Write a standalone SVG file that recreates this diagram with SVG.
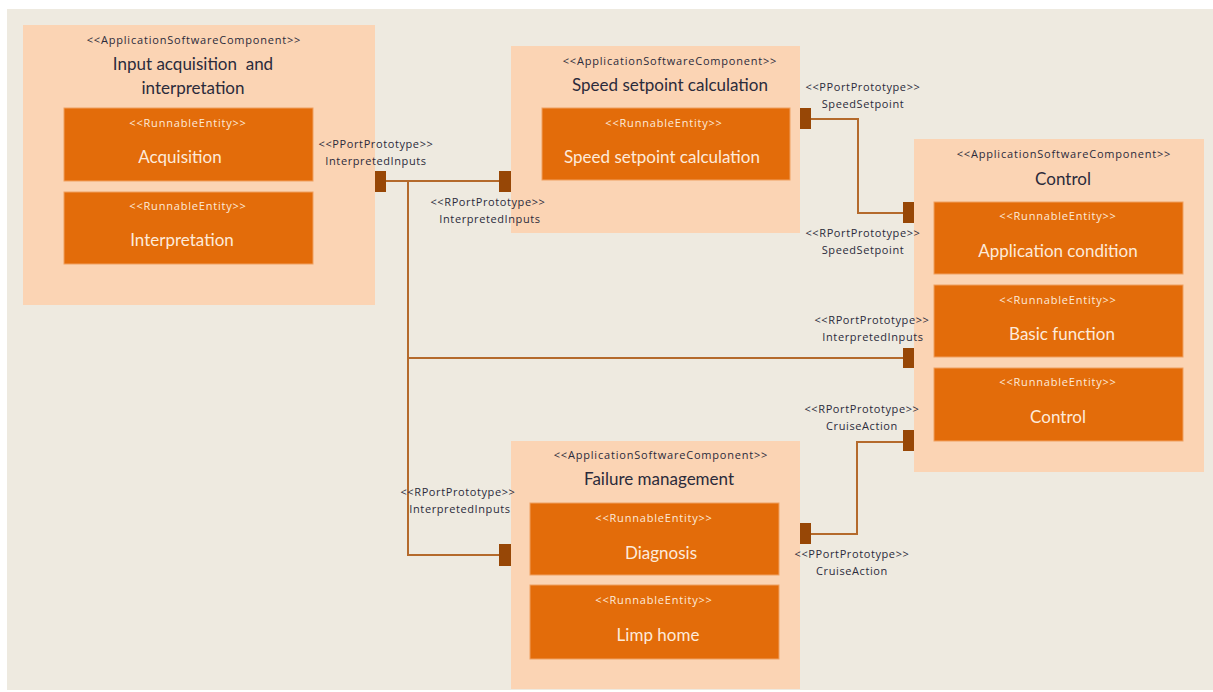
<svg xmlns="http://www.w3.org/2000/svg" width="1213" height="692" viewBox="0 0 1213 692">
<style>
.comp{fill:#FBD4B4}
.run{fill:#E36C0A;stroke:#F0A060;stroke-width:1}
.port{fill:#974706}
.st{font-family:"Open Sans",sans-serif;font-size:11px;fill:#2B2B3B;text-anchor:middle;letter-spacing:0.8px}
.nm{font-family:Lato,"Open Sans",sans-serif;font-size:17px;fill:#2B2B3B;text-anchor:middle}
.rst{font-family:"Open Sans",sans-serif;font-size:11px;fill:#FDEADA;text-anchor:middle;letter-spacing:0.8px}
.rnm{font-family:Lato,"Open Sans",sans-serif;font-size:17px;fill:#FDEADA;text-anchor:middle}
.pl{font-family:"Open Sans",sans-serif;font-size:11px;fill:#2B2B3B;text-anchor:middle;letter-spacing:0.6px}
.con{fill:none;stroke:#B46A2C;stroke-width:2}
</style>
<rect x="0" y="0" width="1213" height="692" fill="#FFFFFF"/>
<rect x="7" y="9" width="1206" height="681" fill="#EEEAE0"/>

<g id="connectors">
<path class="con" d="M386,181 H499"/>
<path class="con" d="M408,181 V555 H499"/>
<path class="con" d="M408,358 H903"/>
<path class="con" d="M811,119 H858 V213 H903"/>
<path class="con" d="M811,534 H857 V442 H903"/>
</g>

<g id="input-acquisition">
<rect class="comp" x="23" y="25" width="352" height="280"/>
<text class="st" x="194" y="44">&lt;&lt;ApplicationSoftwareComponent&gt;&gt;</text>
<text class="nm" x="193" y="70" xml:space="preserve">Input acquisition  and</text>
<text class="nm" x="193" y="94">interpretation</text>
<g id="acquisition">
<rect class="run" x="64" y="108" width="249" height="73"/>
<text class="rst" x="188" y="127">&lt;&lt;RunnableEntity&gt;&gt;</text>
<text class="rnm" x="180" y="163">Acquisition</text>
</g>
<g id="interpretation">
<rect class="run" x="64" y="192" width="249" height="72"/>
<text class="rst" x="188" y="210">&lt;&lt;RunnableEntity&gt;&gt;</text>
<text class="rnm" x="182" y="246">Interpretation</text>
</g>
</g>

<g id="speed-setpoint">
<rect class="comp" x="511" y="46" width="289" height="187"/>
<text class="st" x="670" y="65">&lt;&lt;ApplicationSoftwareComponent&gt;&gt;</text>
<text class="nm" x="670" y="91">Speed setpoint calculation</text>
<g id="speed-setpoint-runnable">
<rect class="run" x="542" y="108" width="248" height="72"/>
<text class="rst" x="664" y="127">&lt;&lt;RunnableEntity&gt;&gt;</text>
<text class="rnm" x="662" y="163">Speed setpoint calculation</text>
</g>
</g>

<g id="control">
<rect class="comp" x="914" y="139" width="290" height="333"/>
<text class="st" x="1064" y="158">&lt;&lt;ApplicationSoftwareComponent&gt;&gt;</text>
<text class="nm" x="1063" y="185">Control</text>
<g id="application-condition">
<rect class="run" x="934" y="202" width="249" height="72"/>
<text class="rst" x="1058" y="220">&lt;&lt;RunnableEntity&gt;&gt;</text>
<text class="rnm" x="1058" y="257">Application condition</text>
</g>
<g id="basic-function">
<rect class="run" x="934" y="285" width="249" height="72"/>
<text class="rst" x="1058" y="304">&lt;&lt;RunnableEntity&gt;&gt;</text>
<text class="rnm" x="1062" y="340">Basic function</text>
</g>
<g id="control-runnable">
<rect class="run" x="934" y="368" width="249" height="73"/>
<text class="rst" x="1058" y="386">&lt;&lt;RunnableEntity&gt;&gt;</text>
<text class="rnm" x="1058" y="423">Control</text>
</g>
</g>

<g id="failure-management">
<rect class="comp" x="511" y="441" width="289" height="248"/>
<text class="st" x="661" y="459">&lt;&lt;ApplicationSoftwareComponent&gt;&gt;</text>
<text class="nm" x="659" y="485">Failure management</text>
<g id="diagnosis">
<rect class="run" x="530" y="503" width="249" height="72"/>
<text class="rst" x="654" y="522">&lt;&lt;RunnableEntity&gt;&gt;</text>
<text class="rnm" x="661" y="559">Diagnosis</text>
</g>
<g id="limp-home">
<rect class="run" x="530" y="585" width="249" height="74"/>
<text class="rst" x="654" y="604">&lt;&lt;RunnableEntity&gt;&gt;</text>
<text class="rnm" x="658" y="641">Limp home</text>
</g>
</g>

<g id="port-p-interpreted">
<rect class="port" x="375" y="171" width="11" height="21"/>
<text class="pl" x="376" y="148">&lt;&lt;PPortPrototype&gt;&gt;</text>
<text class="pl" x="376" y="165">InterpretedInputs</text>
</g>
<g id="port-r-interpreted-speed">
<rect class="port" x="499" y="171" width="12" height="21"/>
<text class="pl" x="488" y="206">&lt;&lt;RPortPrototype&gt;&gt;</text>
<text class="pl" x="490" y="223">InterpretedInputs</text>
</g>
<g id="port-p-speedsetpoint">
<rect class="port" x="800" y="108" width="11" height="21"/>
<text class="pl" x="863" y="91">&lt;&lt;PPortPrototype&gt;&gt;</text>
<text class="pl" x="863" y="108">SpeedSetpoint</text>
</g>
<g id="port-r-speedsetpoint">
<rect class="port" x="903" y="202" width="11" height="21"/>
<text class="pl" x="863" y="237">&lt;&lt;RPortPrototype&gt;&gt;</text>
<text class="pl" x="863" y="254">SpeedSetpoint</text>
</g>
<g id="port-r-interpreted-control">
<rect class="port" x="903" y="348" width="11" height="20"/>
<text class="pl" x="872" y="324">&lt;&lt;RPortPrototype&gt;&gt;</text>
<text class="pl" x="873" y="341">InterpretedInputs</text>
</g>
<g id="port-r-cruise">
<rect class="port" x="903" y="430" width="11" height="21"/>
<text class="pl" x="862" y="413">&lt;&lt;RPortPrototype&gt;&gt;</text>
<text class="pl" x="862" y="430">CruiseAction</text>
</g>
<g id="port-r-interpreted-failure">
<rect class="port" x="499" y="544" width="12" height="22"/>
<text class="pl" x="458" y="496">&lt;&lt;RPortPrototype&gt;&gt;</text>
<text class="pl" x="460" y="513">InterpretedInputs</text>
</g>
<g id="port-p-cruise">
<rect class="port" x="800" y="523" width="11" height="21"/>
<text class="pl" x="852" y="558">&lt;&lt;PPortPrototype&gt;&gt;</text>
<text class="pl" x="852" y="575">CruiseAction</text>
</g>
</svg>
